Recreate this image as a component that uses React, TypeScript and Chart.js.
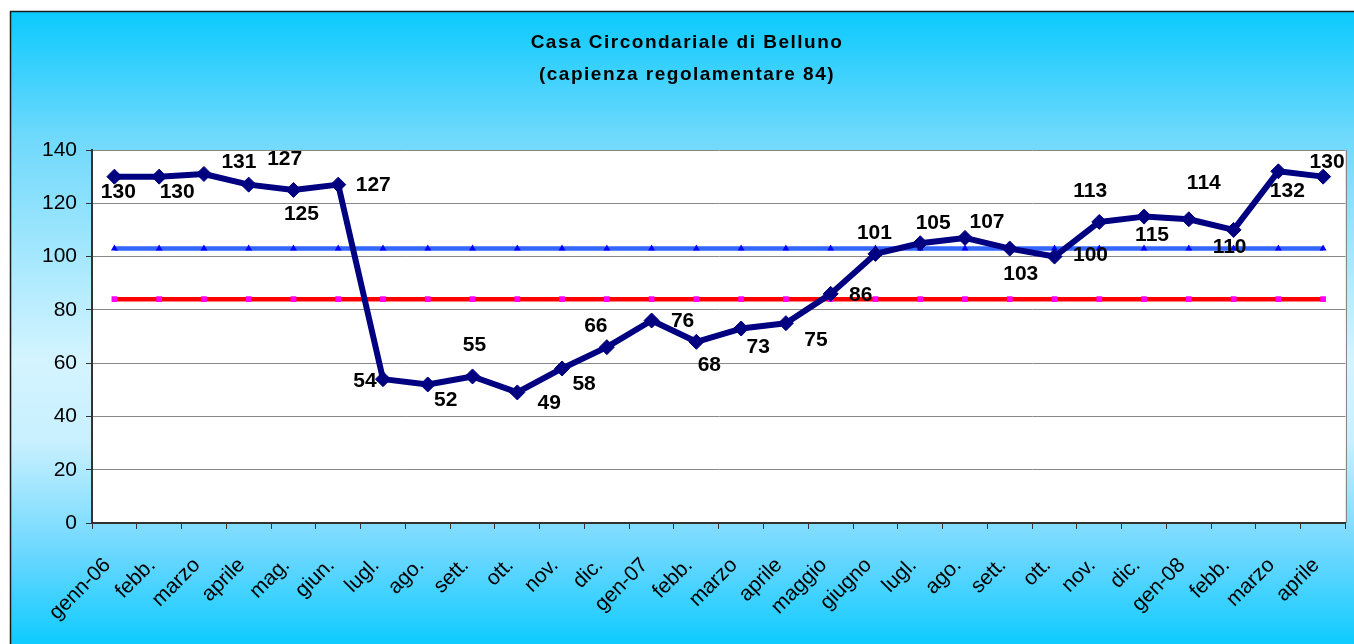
import React, { useEffect, useRef } from "react";
import { Chart, registerables } from "chart.js";

Chart.register(...registerables);

const months = [
  "genn-06", "febb.", "marzo", "aprile", "mag.", "giun.", "lugl.", "ago.", "sett.", "ott.", "nov.", "dic.",
  "gen-07", "febb.", "marzo", "aprile", "maggio", "giugno", "lugl.", "ago.", "sett.", "ott.", "nov.", "dic.",
  "gen-08", "febb.", "marzo", "aprile",
];

const detenuti = [
  130, 130, 131, 127, 125, 127, 54, 52, 55, 49, 58, 66,
  76, 68, 73, 75, 86, 101, 105, 107, 103, 100, 113, 115,
  114, 110, 132, 130,
];

const capienzaTollerabile = [
  103, 103, 103, 103, 103, 103, 103, 103, 103, 103, 103, 103,
  103, 103, 103, 103, 103, 103, 103, 103, 103, 103, 103, 103,
  103, 103, 103, 103,
];

const capienzaRegolamentare = [
  84, 84, 84, 84, 84, 84, 84, 84, 84, 84, 84, 84,
  84, 84, 84, 84, 84, 84, 84, 84, 84, 84, 84, 84,
  84, 84, 84, 84,
];

const yTicks = [0, 20, 40, 60, 80, 100, 120, 140];

const titleLines = ["Casa Circondariale di Belluno", "(capienza regolamentare 84)"];

// label offsets (pixels) from each point, as placed in the original
const labelDx = [4, 18, 35, 36, 8, 35, -18, 18, 2, 32, 22, -11, 31, 13, 17, 30, 30, -1, 13, 22, 11, 36, -9, 8, 15, -4, 9, 4];
const labelDy = [15, 15, -13, -26, 23, 0, 1, 15, -32, 10, 15, -22, 0, 22, 18, 16, 0, -22, -21, -17, 25, -2, -32, 18, -37, 16, 19, -15];

const FONT = "'Liberation Sans', Arial, sans-serif";

const backgroundPlugin = {
  id: "bgPlugin",
  beforeDraw(chart: any) {
    const { ctx, width, height, chartArea } = chart;
    ctx.save();
    ctx.fillStyle = "#ffffff";
    ctx.fillRect(0, 0, width, height);
    const g = ctx.createLinearGradient(0, 11, 0, height);
    g.addColorStop(0, "#0bcafd");
    g.addColorStop(0.2, "#6fd9fc");
    g.addColorStop(0.55, "#d4f4ff");
    g.addColorStop(0.68, "#c8f0ff");
    g.addColorStop(0.85, "#6fd8ff");
    g.addColorStop(1, "#0ecbfe");
    ctx.fillStyle = g;
    ctx.fillRect(10, 11, width - 10, height - 11);
    ctx.strokeStyle = "#1a1a1a";
    ctx.lineWidth = 1.5;
    ctx.beginPath();
    ctx.moveTo(10.5, height + 2);
    ctx.lineTo(10.5, 11.5);
    ctx.lineTo(width + 2, 11.5);
    ctx.stroke();
    ctx.fillStyle = "#ffffff";
    ctx.fillRect(chartArea.left, chartArea.top, chartArea.right - chartArea.left, chartArea.bottom - chartArea.top);
    ctx.restore();
  },
  afterDraw(chart: any) {
    const { ctx, chartArea } = chart;
    ctx.save();
    ctx.strokeStyle = "#888888";
    ctx.lineWidth = 1;
    ctx.beginPath();
    ctx.moveTo(Math.round(chartArea.right) + 0.5, chartArea.top);
    ctx.lineTo(Math.round(chartArea.right) + 0.5, chartArea.bottom);
    ctx.stroke();
    // title
    ctx.fillStyle = "#000000";
    ctx.font = `bold 19px ${FONT}`;
    ctx.textAlign = "center";
    ctx.textBaseline = "alphabetic";
    (ctx as any).letterSpacing = "1.5px";
    ctx.fillText(titleLines[0], 687, 48);
    ctx.fillText(titleLines[1], 687, 80);
    ctx.restore();
  },
};

const labelPlugin = {
  id: "labelPlugin",
  afterDatasetsDraw(chart: any) {
    const meta = chart.getDatasetMeta(0);
    const { ctx } = chart;
    ctx.save();
    ctx.fillStyle = "#000000";
    ctx.font = `bold 21px ${FONT}`;
    ctx.textAlign = "center";
    ctx.textBaseline = "middle";
    meta.data.forEach((pt: any, i: number) => {
      ctx.fillText(String(detenuti[i]), pt.x + labelDx[i], pt.y + labelDy[i] + 1);
    });
    ctx.restore();
  },
};

export default function App() {
  const ref = useRef<HTMLCanvasElement>(null);
  useEffect(() => {
    document.body.style.margin = "0";
    const canvas = ref.current!;
    const chart = new Chart(canvas, {
      type: "line",
      data: {
        labels: months,
        datasets: [
          {
            label: "Detenuti presenti",
            data: detenuti,
            borderColor: "#000080",
            backgroundColor: "#000080",
            borderWidth: 6,
            borderJoinStyle: "round",
            pointStyle: "rectRot",
            pointRadius: 7.5,
            pointBackgroundColor: "#000080",
            pointBorderColor: "#000080",
            pointBorderWidth: 1,
            tension: 0,
          },
          {
            label: "Capienza tollerabile",
            data: capienzaTollerabile,
            borderColor: "#3366ff",
            backgroundColor: "#0000ff",
            borderWidth: 4.5,
            pointStyle: "triangle",
            pointRadius: 4,
            pointBackgroundColor: "#0000ff",
            pointBorderColor: "#0000ff",
            pointBorderWidth: 0,
          },
          {
            label: "Capienza regolamentare",
            data: capienzaRegolamentare,
            borderColor: "#ff0000",
            backgroundColor: "#ff00ff",
            borderWidth: 4.5,
            pointStyle: "rect",
            pointRadius: 4,
            pointBackgroundColor: "#ff00ff",
            pointBorderColor: "#ff00ff",
            pointBorderWidth: 0,
          },
        ],
      },
      options: {
        responsive: false,
        animation: false,
        devicePixelRatio: 1,
        layout: { padding: { top: 150, right: 7, bottom: 0, left: 0 } },
        plugins: {
          legend: { display: false },
          title: { display: false },
          tooltip: { enabled: false },
        },
        scales: {
          x: {
            offset: true,
            grid: {
              offset: true,
              drawOnChartArea: false,
              drawTicks: true,
              tickLength: 6,
              color: "#333333",
              tickColor: "#333333",
            },
            border: { display: true, color: "#333333", width: 2 },
            ticks: {
              autoSkip: false,
              minRotation: 45,
              maxRotation: 45,
              padding: 24,
              labelOffset: -7,
              color: "#000000",
              font: { family: FONT, size: 21 },
            },
            afterFit: (scale: any) => {
              scale.height = 121;
              scale.paddingLeft = 0;
              scale.paddingRight = 0;
            },
          },
          y: {
            min: 0,
            max: 140,
            afterBuildTicks: (scale: any) => {
              scale.ticks = yTicks.map((v) => ({ value: v }));
            },
            grid: {
              color: "#888888",
              tickColor: "#333333",
              tickLength: 6,
              lineWidth: 1,
            },
            border: { display: true, color: "#333333", width: 2 },
            ticks: {
              padding: 9,
              color: "#000000",
              font: { family: FONT, size: 21 },
            },
            afterFit: (scale: any) => {
              scale.width = 92;
            },
          },
        },
      },
      plugins: [backgroundPlugin, labelPlugin],
    });
    return () => chart.destroy();
  }, []);
  return (
    <canvas
      ref={ref}
      width={1354}
      height={644}
      style={{ display: "block", width: "1354px", height: "644px" }}
    />
  );
}
